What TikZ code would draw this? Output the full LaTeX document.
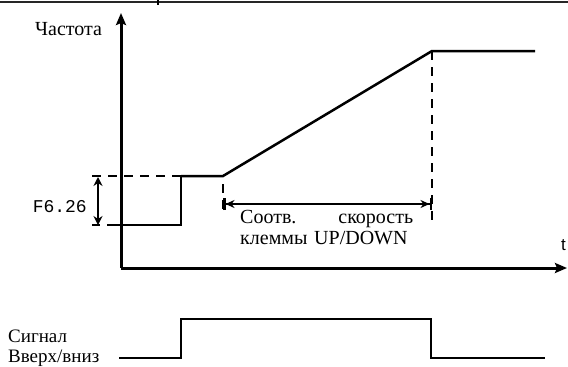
\documentclass[tikz,border=0pt]{standalone}
\usepackage{fontspec}
\setmainfont{Liberation Serif}
\newfontfamily\monof{Liberation Mono}
\newfontfamily\sansf{Liberation Sans}
\usetikzlibrary{arrows.meta}
\begin{document}
\begin{tikzpicture}[x=1pt,y=-1pt,
  axis/.style={line width=3pt,-{Stealth[length=12pt,width=10pt,inset=2pt]}},
  curve/.style={line width=2.5pt},
  dash16/.style={line width=2.5pt,dash pattern=on 9pt off 7pt},
  dim/.style={line width=2.2pt,{Stealth[length=9pt,width=9pt]}-{Stealth[length=9pt,width=9pt]}},
  bardim/.style={line width=2pt,{Bar[width=12pt,line width=2.5pt]Stealth[length=9pt,width=8pt]}-{Stealth[length=9pt,width=8pt]Bar[width=12pt,line width=2.5pt]}},
  lbl/.style={inner sep=0pt,anchor=base west,font=\fontsize{20}{21}\selectfont}
]
\useasboundingbox (0,0) rectangle (568,367);
% top frame line
\coordinate (tl) at (0,2); \coordinate (tr) at (568,2);
\draw[line width=2.2pt,black!85] (tl) -- (tr);
\coordinate (tk1) at (158,0); \coordinate (tk2) at (158,5);
\draw[line width=1.5pt] (tk1) -- (tk2);
% axes
\coordinate (O) at (121,268);
\coordinate (Ytop) at (121,13);
\coordinate (Xend) at (567,268);
\draw[axis] (O) -- (Ytop);
\draw[axis] (O) -- (Xend);
\node[lbl] (freq) at (35,35) {Частота};
\node[inner sep=0pt,anchor=base west,font=\sansf\fontsize{17}{17}\selectfont] (t) at (561,250) {t};
% frequency curve
\coordinate (d0) at (92,176);
\coordinate (s0) at (181,176);
\coordinate (r0) at (223,176);
\coordinate (r1) at (432,51);
\coordinate (r2) at (535,51);
\draw[dash16] (d0) -- (s0);
\draw[curve] (s0) -- (r0) -- (r1) -- (r2);
% lower step
\coordinate (b0) at (92,225);
\coordinate (b1) at (107,225);
\coordinate (b2) at (181,225);
\draw[curve] (b0) -- (100,225);
\draw[curve] (b1) -- (b2) -- (s0);
% F6.26 dimension
\coordinate (fa) at (98,177);
\coordinate (fb) at (98,225);
\draw[dim] (fa) -- (fb);
\node[inner sep=0pt,anchor=base east,font=\monof\fontsize{18}{18}\selectfont] (F) at (87,212) {F6.26};
% dashed verticals
\coordinate (v1a) at (223,184);
\coordinate (v1b) at (223,212);
\coordinate (v2b) at (432,226);
\draw[dash16] (v1a) -- (v1b);
\draw[dash16] (r1) -- (v2b);
% ramp time dimension
\coordinate (ha) at (223,204);
\coordinate (hb) at (432,204);
\draw[bardim] (ha) -- (hb);
\node[lbl,text width=173pt,align=left] (txt) at (240,223) {Соотв.\hfill скорость\\клеммы UP/DOWN};
% signal
\coordinate (g0) at (119,358);
\coordinate (g1) at (181,358);
\coordinate (g2) at (181,319);
\coordinate (g3) at (431,319);
\coordinate (g4) at (431,358);
\coordinate (g5) at (545,358);
\draw[curve,line join=miter] (g0) -- (g1) -- (g2) -- (g3) -- (g4) -- (g5);
\node[lbl,font=\fontsize{19}{20}\selectfont] (sig1) at (8,342) {Сигнал};
\node[lbl,font=\fontsize{19}{20}\selectfont] (sig2) at (8,362) {Вверх/вниз};
\end{tikzpicture}
\end{document}
